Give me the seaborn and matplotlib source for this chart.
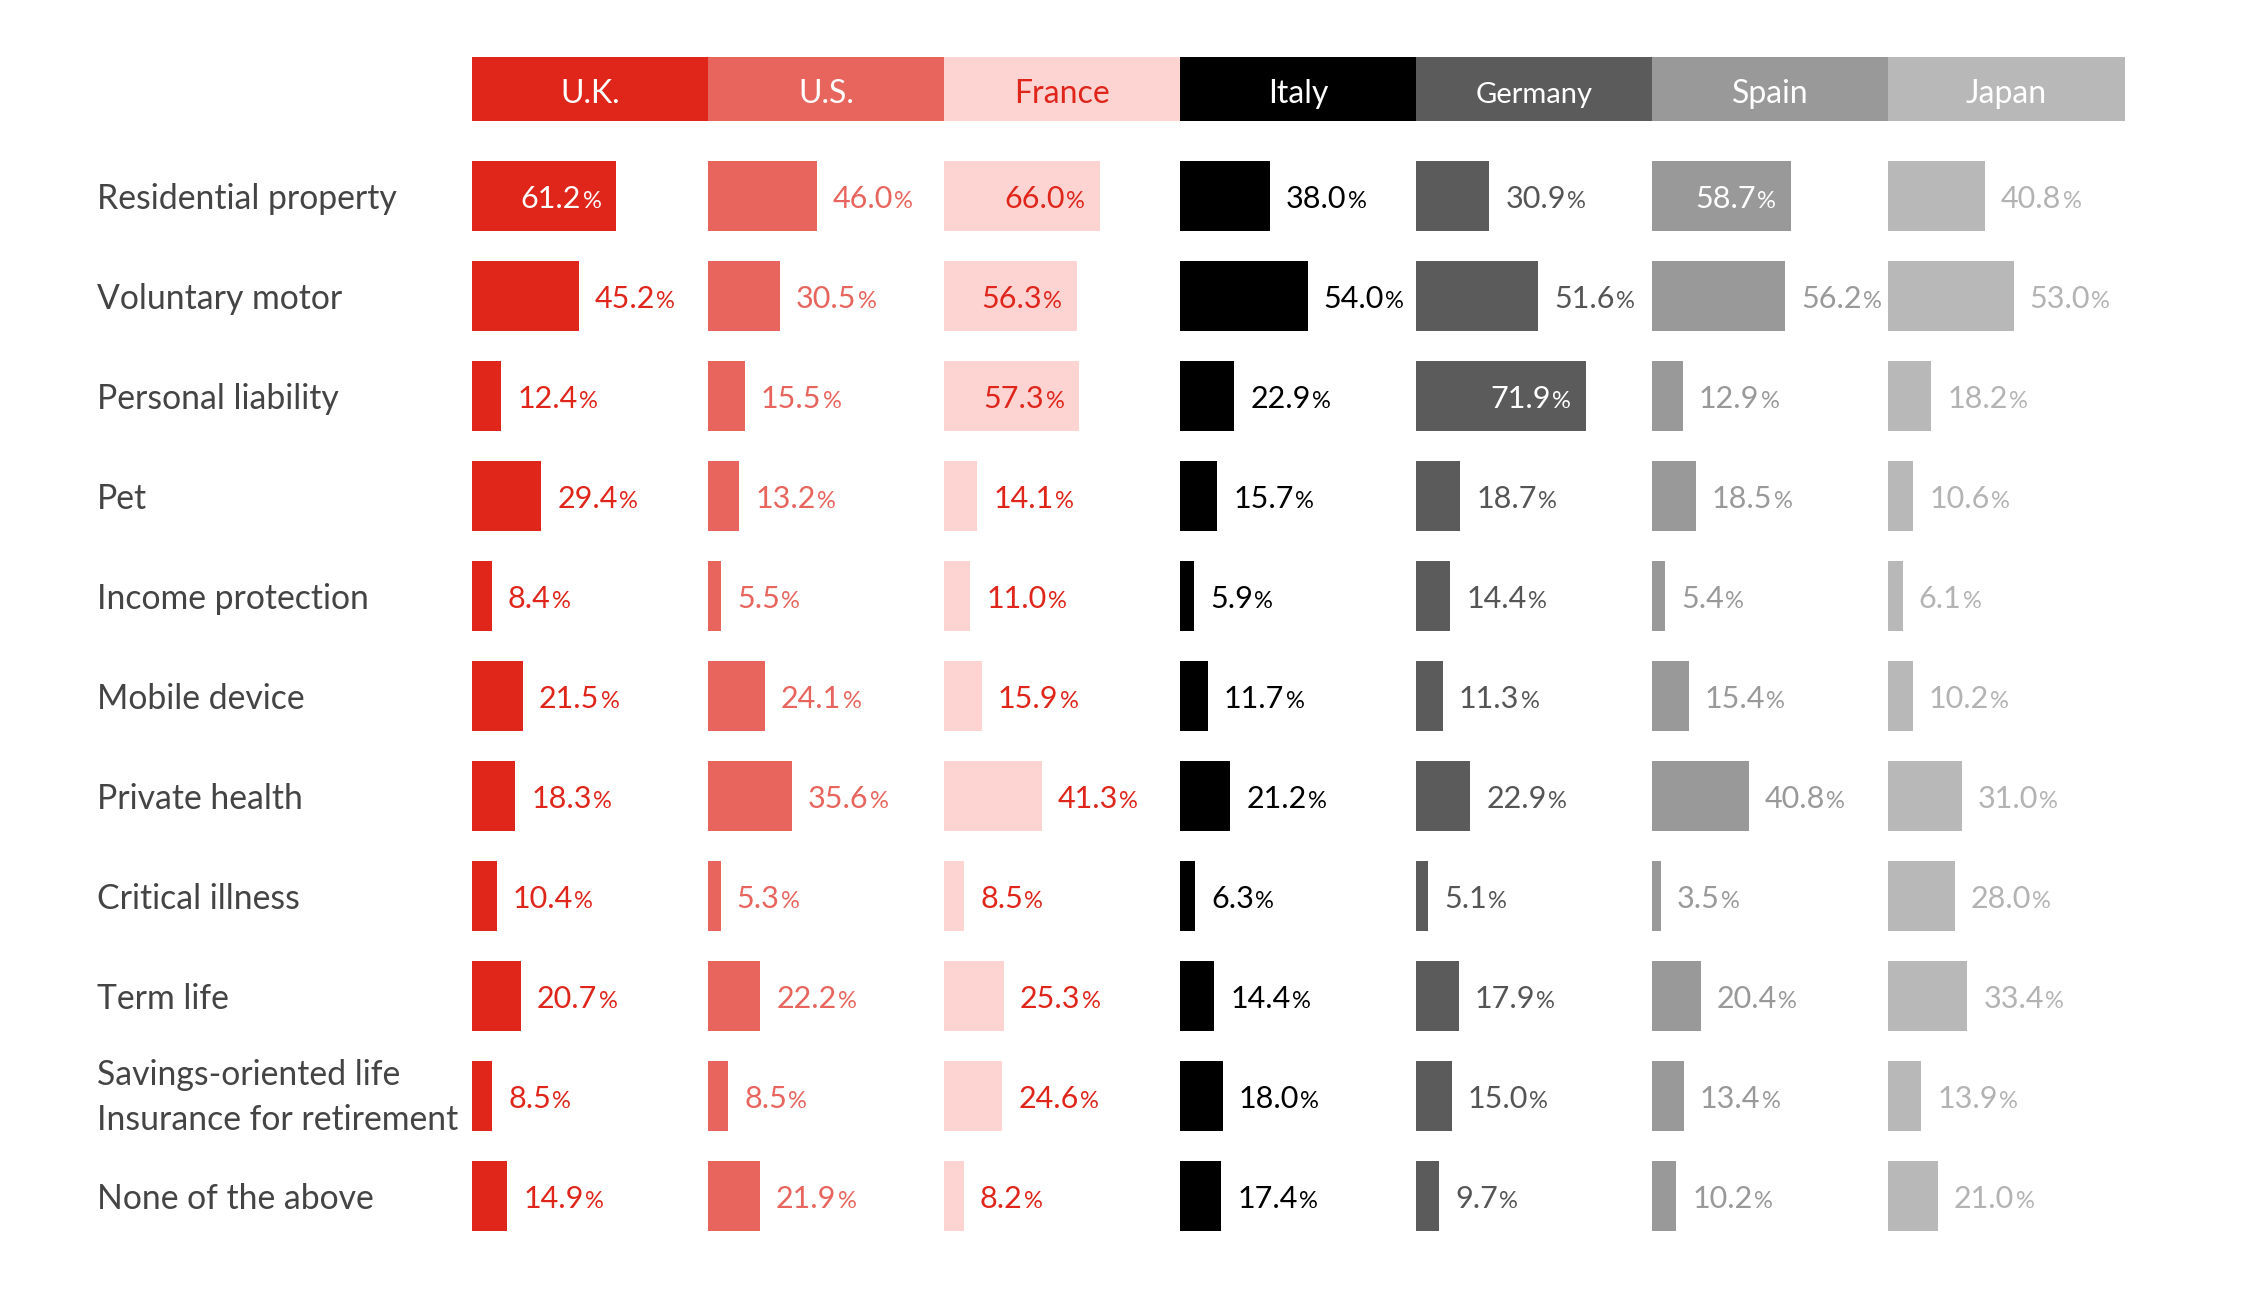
import matplotlib
matplotlib.use("Agg")
import matplotlib.pyplot as plt
from matplotlib.patches import Rectangle
from matplotlib import transforms
import seaborn as sns
import pandas as pd

# ---------------- data ----------------
categories = ["Residential property", "Voluntary motor", "Personal liability", "Pet",
              "Income protection", "Mobile device", "Private health", "Critical illness",
              "Term life", "Savings-oriented life\nInsurance for retirement", "None of the above"]
countries = ["U.K.", "U.S.", "France", "Italy", "Germany", "Spain", "Japan"]
uk      = [61.2, 45.2, 12.4, 29.4, 8.4, 21.5, 18.3, 10.4, 20.7, 8.5, 14.9]
us      = [46.0, 30.5, 15.5, 13.2, 5.5, 24.1, 35.6, 5.3, 22.2, 8.5, 21.9]
france  = [66.0, 56.3, 57.3, 14.1, 11.0, 15.9, 41.3, 8.5, 25.3, 24.6, 8.2]
italy   = [38.0, 54.0, 22.9, 15.7, 5.9, 11.7, 21.2, 6.3, 14.4, 18.0, 17.4]
germany = [30.9, 51.6, 71.9, 18.7, 14.4, 11.3, 22.9, 5.1, 17.9, 15.0, 9.7]
spain   = [58.7, 56.2, 12.9, 18.5, 5.4, 15.4, 40.8, 3.5, 20.4, 13.4, 10.2]
japan   = [40.8, 53.0, 18.2, 10.6, 6.1, 10.2, 31.0, 28.0, 33.4, 13.9, 21.0]
series = [uk, us, france, italy, germany, spain, japan]

rows = []
for c, vals in zip(countries, series):
    for cat, v in zip(categories, vals):
        rows.append({"country": c, "category": cat, "value": v})
df = pd.DataFrame(rows)

# ---------------- style ----------------
bar_colors   = ["#E0251B", "#E8655E", "#FED4D3", "#000000", "#5B5B5B", "#999999", "#B8B8B8"]
label_colors = ["#E0251B", "#E8655E", "#E0251B", "#000000", "#555555", "#999999", "#B3B3B3"]
inside_colors = ["#FFFFFF", "#FFFFFF", "#E0251B", "#FFFFFF", "#FFFFFF", "#FFFFFF", "#FFFFFF"]
head_text_colors = ["#FFFFFF", "#FFFFFF", "#E0251B", "#FFFFFF", "#FFFFFF", "#FFFFFF", "#FFFFFF"]
head_sizes = [23, 23, 23, 23, 21, 23, 23]
INSIDE_MIN = 56.25

sns.set_theme(style="white")
FONT = ["Lato", "DejaVu Sans"]
plt.rcParams["font.family"] = FONT

CAT_FS = 24.3
VAL_FS = 22
PCT_FS = 17
PX = 72 / 100.0  # points per pixel

fig = plt.figure(figsize=(22.45, 12.92), dpi=100)
axes = fig.subplots(1, 7, sharey=True)
fig.subplots_adjust(left=0.21025, right=0.94633, top=0.887, bottom=0.0356, wspace=0)

for k, (ax, c) in enumerate(zip(axes, countries)):
    sub = df[df["country"] == c]
    sns.barplot(data=sub, x="value", y="category", order=categories, orient="h",
                color=bar_colors[k], saturation=1, width=0.7, linewidth=0,
                errorbar=None, ax=ax)
    ax.set_xlim(0, 100)
    ax.set_ylim(len(categories) - 0.5, -0.5)
    ax.axis("off")

    # header
    ax.add_patch(Rectangle((0, 1.0227), 1, 0.0579, transform=ax.transAxes,
                           facecolor=bar_colors[k], edgecolor="none", clip_on=False))
    ax.text(0.5, 1.0388, c, transform=ax.transAxes, ha="center", va="baseline",
            fontsize=head_sizes[k], color=head_text_colors[k])

    # value labels
    for i, v in enumerate(series[k]):
        dy = -12 * PX
        if v >= INSIDE_MIN:
            col = inside_colors[k]
            pct = ax.annotate("%", xy=(v, i), xytext=(-15 * PX, dy), textcoords="offset points",
                              ha="right", va="baseline", fontsize=PCT_FS, color=col)
            ax.annotate(f"{v:.1f}", xy=(0, i), xycoords=(pct, "data"), xytext=(-1, dy),
                        textcoords="offset points", ha="right", va="baseline",
                        fontsize=VAL_FS, color=col)
        else:
            col = label_colors[k]
            num = ax.annotate(f"{v:.1f}", xy=(v, i), xytext=(16 * PX, dy), textcoords="offset points",
                              ha="left", va="baseline", fontsize=VAL_FS, color=col)
            ax.annotate("%", xy=(1, i), xycoords=(num, "data"), xytext=(1, dy),
                        textcoords="offset points", ha="left", va="baseline",
                        fontsize=PCT_FS, color=col)

# category labels
trans = transforms.blended_transform_factory(fig.transFigure, axes[0].transData)
for i, cat in enumerate(categories):
    n = cat.count("\n")
    fig.text(0.0432, i, cat,
             transform=trans + transforms.ScaledTranslation(0, -(13 + 21 * n) / 100.0, fig.dpi_scale_trans),
             ha="left", va="baseline", fontsize=CAT_FS, color="#444444", linespacing=1.5)

fig.savefig("out.png", dpi=100, facecolor="white")
